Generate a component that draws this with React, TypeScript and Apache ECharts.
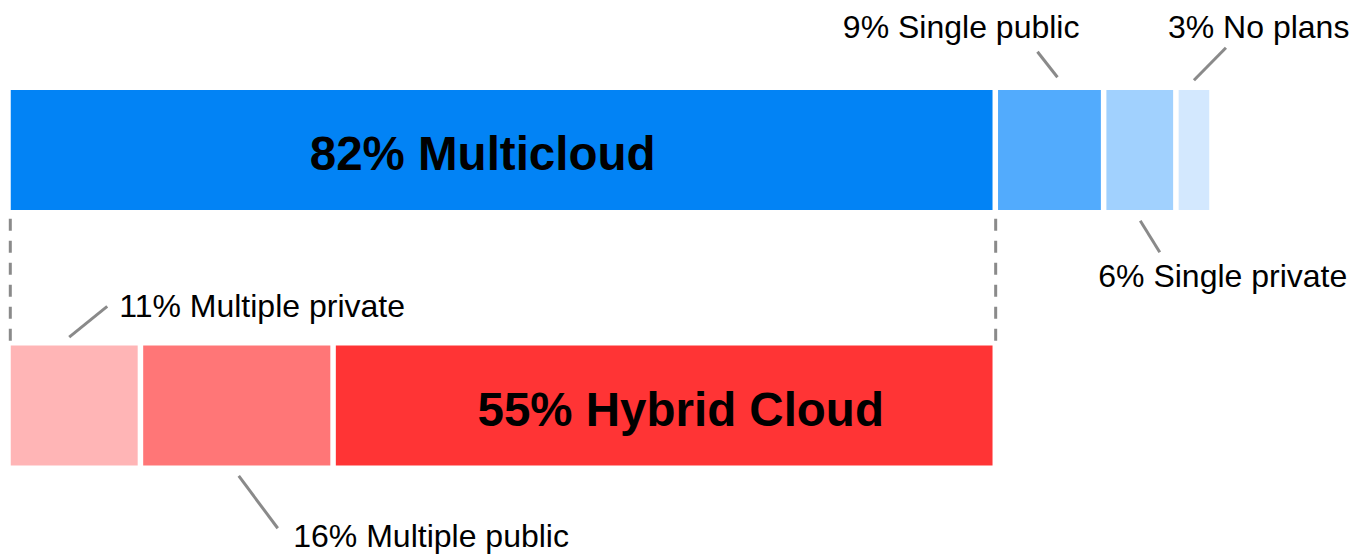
import React, { useEffect, useRef } from "react";
import * as echarts from "echarts";

// ---- data ----
const rowKeys = ["Multicloud", "Hybrid Cloud"];
const topNames = ["Multicloud", "Single public", "Single private", "No plans"];
const topValues = [82, 9, 6, 3];
const bottomNames = ["Multiple private", "Multiple public", "Hybrid Cloud"];
const bottomValues = [11, 16, 55];

// ---- styles ----
const topColors = ["#0283F5", "#52ABFD", "#A1D1FE", "#D3E8FE"];
const bottomColors = ["#FFB5B6", "#FF7677", "#FF3435"];
const FONT = 'Arial, "Liberation Sans", sans-serif';
const BAR_W = 125.5;
const BORDER = 2.75;
const SMALL_FS = 32;
const BIG_FS = 47.5;
const LEADER = "#8A8A8A";

// annotation layout for small segments
type Ann = { row: number; seg: number; side: "top" | "bottom"; line: number[]; tx: number; ty: number; align: "left" | "right" };
const annotations: Ann[] = [
  { row: 0, seg: 1, side: "top", line: [-12, -35.5, 8, -10], tx: 30, ty: -60, align: "right" },
  { row: 0, seg: 3, side: "top", line: [32, -39.5, 0, -7], tx: -26, ty: -60, align: "left" },
  { row: 0, seg: 2, side: "bottom", line: [0.5, 8, 20, 39.5], tx: -41.5, ty: 63.3, align: "left" },
  { row: 1, seg: 0, side: "top", line: [33, -36.3, -5, -5.7], tx: 45, ty: -37, align: "left" },
  { row: 1, seg: 1, side: "bottom", line: [2, 7.7, 41, 60], tx: 56.5, ty: 68, align: "left" },
];

export default function App() {
  const ref = useRef<HTMLDivElement>(null);

  useEffect(() => {
    if (!ref.current) return;
    const chart = echarts.init(ref.current, null, { renderer: "svg" });

    const series: any[] = [];
    topValues.forEach((v, i) => {
      series.push({
        type: "bar",
        stack: "s",
        name: topNames[i],
        barWidth: BAR_W,
        data: [v, "-"],
        itemStyle: { color: topColors[i], borderColor: "#ffffff", borderWidth: BORDER },
        label:
          i === 0
            ? {
                show: true,
                position: "inside",
                formatter: `${v}% ${topNames[i]}`,
                fontSize: BIG_FS,
                fontWeight: "bold",
                fontFamily: FONT,
                color: "#000",
                offset: [-19, 3.5],
              }
            : { show: false },
      });
    });
    bottomValues.forEach((v, i) => {
      series.push({
        type: "bar",
        stack: "s",
        name: bottomNames[i],
        barWidth: BAR_W,
        data: ["-", v],
        itemStyle: { color: bottomColors[i], borderColor: "#ffffff", borderWidth: BORDER },
        label:
          i === bottomValues.length - 1
            ? {
                show: true,
                position: "inside",
                formatter: `${v}% ${bottomNames[i]}`,
                fontSize: BIG_FS,
                fontWeight: "bold",
                fontFamily: FONT,
                color: "#000",
                offset: [16.5, 3.8],
              }
            : { show: false },
      });
    });

    chart.setOption({
      animation: false,
      backgroundColor: "#ffffff",
      grid: { left: 8, top: 22.25, width: 1204, height: 511, containLabel: false },
      xAxis: { type: "value", min: 0, max: 100, show: false },
      yAxis: { type: "category", data: rowKeys, inverse: true, show: false },
      tooltip: { show: false },
      series,
    });

    const toPx = (x: number, row: number) => chart.convertToPixel({ gridIndex: 0 }, [x, row]) as number[];
    const rowVals = [topValues, bottomValues];
    const rowNames = [topNames, bottomNames];
    const elements: any[] = [];

    annotations.forEach((a) => {
      const vals = rowVals[a.row];
      const start = vals.slice(0, a.seg).reduce((s, x) => s + x, 0);
      const end = start + vals[a.seg];
      const p0 = toPx(start, a.row);
      const p1 = toPx(end, a.row);
      const cx = (p0[0] + p1[0]) / 2;
      const cy = p0[1];
      const edge = a.side === "top" ? cy - BAR_W / 2 : cy + BAR_W / 2;
      elements.push({
        type: "line",
        shape: { x1: cx + a.line[0], y1: edge + a.line[1], x2: cx + a.line[2], y2: edge + a.line[3] },
        style: { stroke: LEADER, lineWidth: 3 },
        silent: true,
      });
      elements.push({
        type: "text",
        x: cx + a.tx,
        y: edge + a.ty,
        style: {
          text: `${vals[a.seg]}% ${rowNames[a.row][a.seg]}`,
          fontSize: SMALL_FS,
          fontFamily: FONT,
          fill: "#000",
          align: a.align,
          textAlign: a.align,
          verticalAlign: "middle",
          textVerticalAlign: "middle",
        },
        silent: true,
      });
    });

    // dashed guides marking Multicloud's extent
    const total = topValues[0];
    const topBottom = toPx(0, 0)[1] + BAR_W / 2;
    const botTop = toPx(0, 1)[1] - BAR_W / 2;
    [toPx(0, 0)[0] + 2.3, toPx(total, 0)[0] + 0.4].forEach((x) => {
      elements.push({
        type: "line",
        shape: { x1: x, y1: topBottom + 6, x2: x, y2: botTop - 2 },
        style: { stroke: LEADER, lineWidth: 3, lineDash: [12, 10] },
        silent: true,
      });
    });

    chart.setOption({ graphic: { elements } });

    return () => chart.dispose();
  }, []);

  return (
    <div
      ref={ref}
      style={{ position: "absolute", left: 0, top: 0, width: 1352, height: 554 }}
    />
  );
}
